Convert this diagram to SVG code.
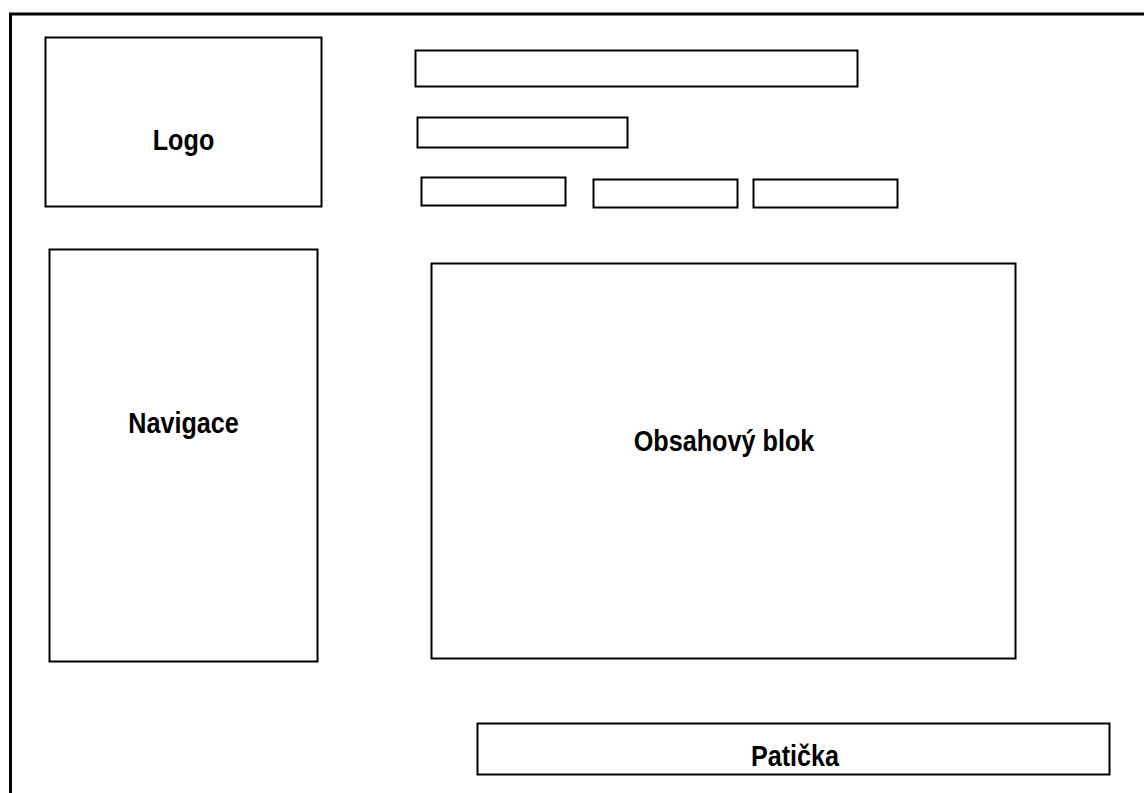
<svg xmlns="http://www.w3.org/2000/svg" width="1144" height="793" viewBox="0 0 1144 793">
<style>
.box{fill:#fff;stroke:#000;stroke-width:2}
.lbl{font-family:"Liberation Sans",Arial,sans-serif;font-weight:bold;font-size:30px;fill:#000;text-anchor:middle}
</style>
<rect width="1144" height="793" fill="#fff"/>
<g id="frame"><path d="M10.5 793 V14 H1144" fill="none" stroke="#000" stroke-width="3"/></g>
<g id="logo"><rect class="box" x="45.5" y="37.5" width="276" height="169"/><text class="lbl" transform="translate(183.5 150) scale(0.84 1)">Logo</text></g>
<g id="bar1"><rect class="box" x="415.5" y="50.5" width="442" height="36"/></g>
<g id="bar2"><rect class="box" x="417.5" y="117.5" width="210" height="30"/></g>
<g id="btn1"><rect class="box" x="421.5" y="177.5" width="144" height="28"/></g>
<g id="btn2"><rect class="box" x="593.5" y="179.5" width="144" height="28"/></g>
<g id="btn3"><rect class="box" x="753.5" y="179.5" width="144" height="28"/></g>
<g id="nav"><rect class="box" x="49.5" y="249.5" width="268" height="412"/><text class="lbl" transform="translate(183.5 433) scale(0.84 1)">Navigace</text></g>
<g id="content"><rect class="box" x="431.5" y="263.5" width="584" height="395"/><text class="lbl" transform="translate(724 451) scale(0.84 1)">Obsahový blok</text></g>
<g id="footer"><rect class="box" x="477.5" y="723.5" width="632" height="51"/><text class="lbl" transform="translate(795 766) scale(0.84 1)">Patička</text></g>
<g id="connectors"></g>
</svg>
